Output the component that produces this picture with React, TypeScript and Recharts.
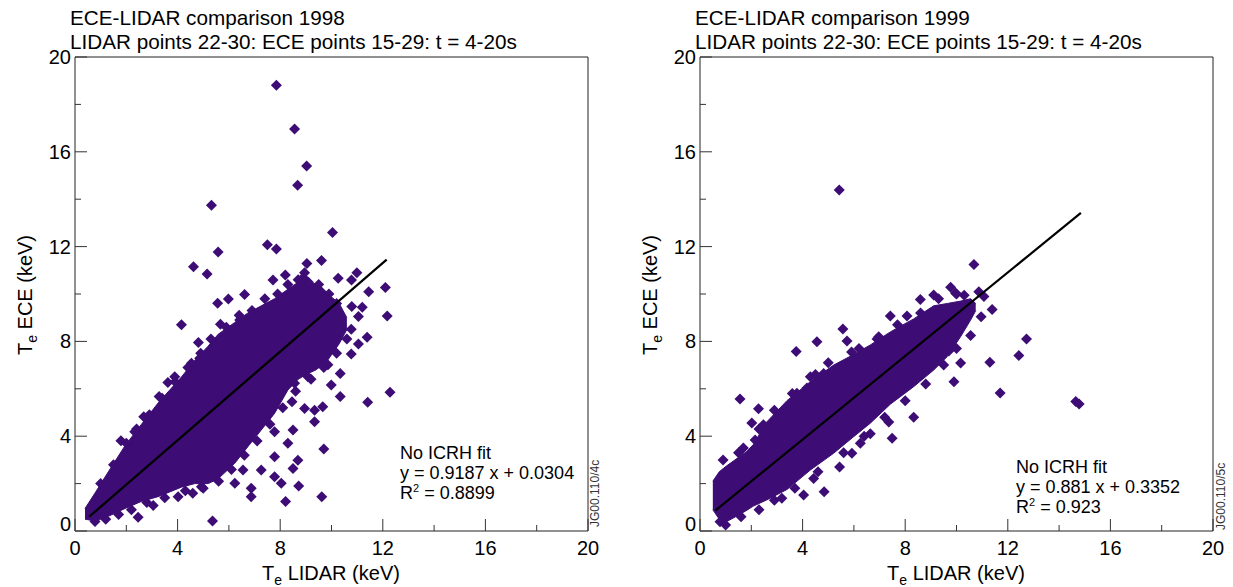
import React from 'react';
import { ComposedChart, Area, Scatter, XAxis, YAxis, ReferenceArea } from 'recharts';

const FONT = '"Liberation Sans", Arial, Helvetica, sans-serif';
const PURPLE = '#3d0c75';

const axisTicks = [0, 2, 4, 6, 8, 10, 12, 14, 16, 18, 20];
const labelledTicks = [0, 4, 8, 12, 16, 20];

// 1998 - envelope of the dense cloud
const band98X = [0.39, 0.78, 1.3, 1.95, 2.59, 3.24, 4.15, 4.67, 5.19, 5.58, 6.23, 6.74, 7.26, 7.78, 8.3, 8.7, 9.0, 9.4, 9.86, 10.3, 10.6];
const band98Lo = [0.5, 0.42, 0.62, 0.95, 1.25, 1.45, 1.85, 2.0, 2.0, 2.2, 2.86, 3.56, 4.26, 4.96, 5.95, 6.4, 6.6, 6.8, 7.22, 7.9, 8.5];
const band98Hi = [0.95, 1.6, 2.5, 3.6, 4.5, 5.4, 6.5, 7.2, 7.8, 8.3, 8.8, 9.2, 9.5, 9.8, 10.2, 10.5, 10.6, 10.4, 10.0, 9.6, 9.0];

// 1998 - separate points (outliers and the ragged edge of the cloud)
const pts98X = [7.85, 8.56, 9.03, 8.68, 5.32, 10.04, 5.58, 7.5, 7.85, 4.62, 5.15, 9.61, 9.04, 10.26, 10.99, 10.78, 12.1, 11.45, 12.17, 4.15, 4.81, 12.28, 11.41, 5.56, 5.98, 6.61, 7.72, 8.2, 9.6, 11.2, 10.79, 11.05, 10.77, 11.39, 11.05, 10.77, 10.34, 10.34, 9.7, 9.62, 8.72, 8.21, 6.87, 5.36, 3.05, 4.59, 1.79, 2.33, 2.68, 3.28, 3.89, 3.62, 4.54, 4.86, 5.67, 6.42, 8.46, 8.95, 9.34, 9.66, 9.34, 8.5, 7.78, 8.3, 8.69, 7.78, 8.5, 8.04, 7.78, 7.26, 6.87, 6.55, 6.23, 5.97, 5.45, 4.93, 4.02, 2.46, 0.78, 9.99, 9.08, 8.56, 9.47, 9.86, 8.95, 8.9,
  1.0, 1.5, 2.0, 2.4, 2.9, 3.4, 3.9, 4.4, 4.9, 5.3, 5.9, 6.4, 6.9, 7.4, 7.9, 8.3, 8.7, 9.1, 9.5, 9.9, 10.2,
  1.2, 1.7, 2.2, 2.8, 3.5, 4.3, 5.0, 5.6, 6.1, 6.6, 7.1, 7.6, 8.1, 8.6, 9.2, 9.7, 10.2, 10.6];
const pts98Y = [18.81, 16.96, 15.4, 14.59, 13.74, 12.59, 11.77, 12.08, 11.9, 11.15, 10.84, 11.41, 11.29, 10.66, 10.9, 10.59, 10.27, 10.1, 9.07, 8.7, 7.95, 5.85, 5.43, 9.61, 9.79, 9.98, 10.59, 10.8, 10.1, 9.44, 9.47, 9.05, 8.51, 8.17, 7.89, 7.47, 6.65, 5.67, 3.46, 1.45, 1.9, 1.24, 1.45, 0.42, 1.08, 1.59, 3.81, 4.19, 4.82, 5.67, 6.51, 6.27, 7.08, 7.29, 8.72, 8.9, 5.45, 5.17, 5.1, 5.24, 4.61, 4.26, 4.19, 3.7, 2.99, 3.13, 2.64, 2.01, 2.29, 2.57, 1.8, 2.57, 2.01, 2.99, 2.29, 1.87, 1.45, 0.58, 0.4, 6.16, 6.51, 6.23, 7.08, 7.01, 10.9, 10.7,
  2.0, 2.8, 3.7, 4.3, 4.9, 5.6, 6.3, 6.9, 7.5, 8.1, 8.6, 9.1, 9.3, 9.8, 10.0, 10.4, 10.6, 10.5, 10.4, 10.0, 9.6,
  0.5, 0.7, 0.9, 1.2, 1.4, 1.7, 1.8, 2.1, 2.6, 3.2, 3.8, 4.5, 5.2, 5.9, 6.4, 6.9, 7.5, 8.1];

const fit98X = [0.55, 12.15];
const fit98Y = [0.6, 11.45];

// 1999 - envelope of the dense cloud
const band99X = [0.5, 0.75, 1.04, 1.3, 1.82, 2.08, 2.6, 3.39, 4.3, 5.21, 5.99, 6.64, 7.42, 8.33, 9.11, 9.64, 10.16, 10.55, 10.75];
const band99Lo = [0.9, 0.5, 0.4, 0.55, 0.87, 1.05, 1.31, 1.75, 2.57, 3.28, 3.98, 4.55, 5.35, 6.09, 6.79, 7.36, 8.2, 8.9, 9.3];
const band99Hi = [2.1, 2.5, 2.75, 2.95, 3.35, 3.65, 4.6, 5.5, 6.3, 7.0, 7.45, 7.85, 8.4, 8.95, 9.5, 9.6, 9.7, 9.8, 9.6];

// 1999 - separate points (outliers and the ragged edge of the cloud)
const pts99X = [5.43, 10.68, 9.77, 10.0, 8.59, 9.11, 7.42, 8.07, 5.57, 5.73, 4.56, 3.75, 5.91, 6.97, 11.39, 10.96, 12.73, 12.43, 11.3, 11.7, 10.55, 9.9, 9.7, 10.16, 8.33, 7.49, 1.56, 2.28, 2.02, 2.47, 2.15, 4.3, 4.69, 4.82, 4.17, 3.78, 4.04, 4.84, 4.43, 3.19, 5.44, 5.92, 6.25, 6.64, 7.36, 1.69, 0.78, 14.65, 14.78, 11.07, 10.87, 9.96,
  0.9, 1.5, 2.3, 2.9, 3.6, 4.5, 5.0, 6.2, 6.9, 7.7, 8.6, 9.3, 10.3,
  1.0, 1.6, 2.3, 2.9, 3.7, 4.6, 5.6, 6.4, 7.2, 8.0, 8.8, 9.5, 10.0];
const pts99Y = [14.39, 11.25, 10.28, 10.0, 9.77, 9.96, 9.07, 9.07, 8.52, 8.02, 7.99, 7.57, 7.55, 8.2, 9.35, 9.04, 8.1, 7.4, 7.12, 5.82, 8.25, 6.3, 7.6, 7.09, 4.8, 3.91, 5.57, 5.16, 4.56, 4.48, 3.84, 6.51, 6.09, 6.65, 6.03, 5.81, 1.52, 1.66, 2.22, 1.38, 2.7, 3.28, 3.7, 4.1, 4.6, 3.5, 0.39, 5.46, 5.36, 9.89, 10.1, 10.04,
  3.0, 3.3, 4.3, 5.1, 5.8, 6.6, 7.1, 7.7, 8.1, 8.7, 9.2, 9.8, 9.95,
  0.25, 0.6, 0.9, 1.3, 1.8, 2.5, 3.3, 4.0, 4.8, 5.5, 6.2, 7.0, 7.7];

const fit99X = [0.6, 14.85];
const fit99Y = [0.864, 13.42];

const Diamond = (props: any) => {
  const { cx, cy } = props;
  if (cx == null || cy == null) return <g />;
  const r = 5.5;
  return <polygon points={`${cx},${cy - r} ${cx + r},${cy} ${cx},${cy + r} ${cx - r},${cy}`} fill={PURPLE} />;
};

const XTick = (props: any) => {
  const { x, y, payload } = props;
  const major = labelledTicks.includes(payload.value);
  return (
    <g>
      <line x1={x} y1={y} x2={x} y2={y - (major ? 12 : 6)} stroke="#333" strokeWidth={1} />
      {major && (
        <text x={x} y={y + 24} textAnchor="middle" fontSize={20} fontFamily={FONT} fill="#000">
          {payload.value}
        </text>
      )}
    </g>
  );
};

const YTick = (props: any) => {
  const { x, y, payload } = props;
  const major = labelledTicks.includes(payload.value);
  return (
    <g>
      <line x1={x} y1={y} x2={x + (major ? 12 : 6)} y2={y} stroke="#333" strokeWidth={1} />
      {major && (
        <text x={x - 4} y={y + 7 - (payload.value === 0 ? 7 : 0)} textAnchor="end" fontSize={20} fontFamily={FONT} fill="#000">
          {payload.value}
        </text>
      )}
    </g>
  );
};

function Panel(p: any) {
  const bandRows = p.bandX.map((x: number, i: number) => ({ x, range: [p.bandLo[i], p.bandHi[i]] }));
  const pts = p.ptsX.map((x: number, i: number) => ({ x, y: p.ptsY[i] }));
  const fit = p.fitX.map((x: number, i: number) => ({ x, y: p.fitY[i] }));
  const nt = p.noteTop;
  return (
    <div style={{ position: 'absolute', left: p.left, top: 0, width: 616, height: 587 }}>
      <ComposedChart width={616} height={587} data={bandRows} margin={{ top: 57, right: 28, left: 0, bottom: 0 }}>
        <XAxis type="number" dataKey="x" domain={[0, 20]} ticks={axisTicks} interval={0} tickSize={0} tickMargin={0}
          axisLine={false} tickLine={false} height={56} tick={(t: any) => <XTick {...t} />} allowDataOverflow />
        <YAxis type="number" dataKey="y" domain={[0, 20]} ticks={axisTicks} interval={0} tickSize={0} tickMargin={0}
          axisLine={false} tickLine={false} width={75} tick={(t: any) => <YTick {...t} />} allowDataOverflow />
        <Area type="linear" dataKey="range" fill={PURPLE} fillOpacity={1} stroke={PURPLE} strokeWidth={1} isAnimationActive={false} dot={false} activeDot={false} />
        <Scatter data={pts} shape={(s: any) => <Diamond {...s} />} isAnimationActive={false} />
        <Scatter data={fit} line={{ stroke: '#000', strokeWidth: 2.2 }} shape={() => <g />} isAnimationActive={false} />
        <ReferenceArea x1={0} x2={20} y1={0} y2={20} fill="#fff" fillOpacity={0} stroke="#222" strokeWidth={1} ifOverflow="visible" />
      </ComposedChart>
      <svg width={616} height={587} style={{ position: 'absolute', left: 0, top: 0, pointerEvents: 'none' }} fontFamily={FONT}>
        <text x={70} y={25} fontSize={20.7} fill="#000">{p.title}</text>
        <text x={70} y={49} fontSize={20.7} fill="#000">LIDAR points 22-30: ECE points 15-29: t = 4-20s</text>
        <text x={p.noteX} y={nt} fontSize={18} fill="#000">No ICRH fit</text>
        <text x={p.noteX} y={nt + 20} fontSize={18} fill="#000">{p.fitText}</text>
        <text x={p.noteX} y={nt + 40} fontSize={18} fill="#000">
          R<tspan fontSize={11} dy={-7}>2</tspan><tspan dy={7}> = {p.r2}</tspan>
        </text>
        <text transform={`translate(${p.codeX},${p.codeY}) rotate(-90)`} fontSize={12} fill="#333">{p.code}</text>
        <text x={331} y={580} textAnchor="middle" fontSize={20} fill="#000">
          T<tspan fontSize={14} dy={5}>e</tspan><tspan dy={-5}> LIDAR (keV)</tspan>
        </text>
        <text transform="translate(32,295) rotate(-90)" textAnchor="middle" fontSize={20} fill="#000">
          T<tspan fontSize={14} dy={5}>e</tspan><tspan dy={-5}> ECE (keV)</tspan>
        </text>
      </svg>
    </div>
  );
}

export default function App() {
  return (
    <div style={{ position: 'absolute', left: 0, top: 0, width: 1233, height: 587, background: '#fff', overflow: 'hidden' }}>
      <Panel left={0} title="ECE-LIDAR comparison 1998" bandX={band98X} bandLo={band98Lo} bandHi={band98Hi}
        ptsX={pts98X} ptsY={pts98Y} fitX={fit98X} fitY={fit98Y} fitText="y = 0.9187 x + 0.0304" r2="0.8899"
        noteX={400} noteTop={459} code="JG00.110/4c" codeX={599} codeY={527} />
      <Panel left={625} title="ECE-LIDAR comparison 1999" bandX={band99X} bandLo={band99Lo} bandHi={band99Hi}
        ptsX={pts99X} ptsY={pts99Y} fitX={fit99X} fitY={fit99Y} fitText="y = 0.881 x + 0.3352" r2="0.923"
        noteX={391} noteTop={473} code="JG00.110/5c" codeX={600} codeY={530} />
    </div>
  );
}
